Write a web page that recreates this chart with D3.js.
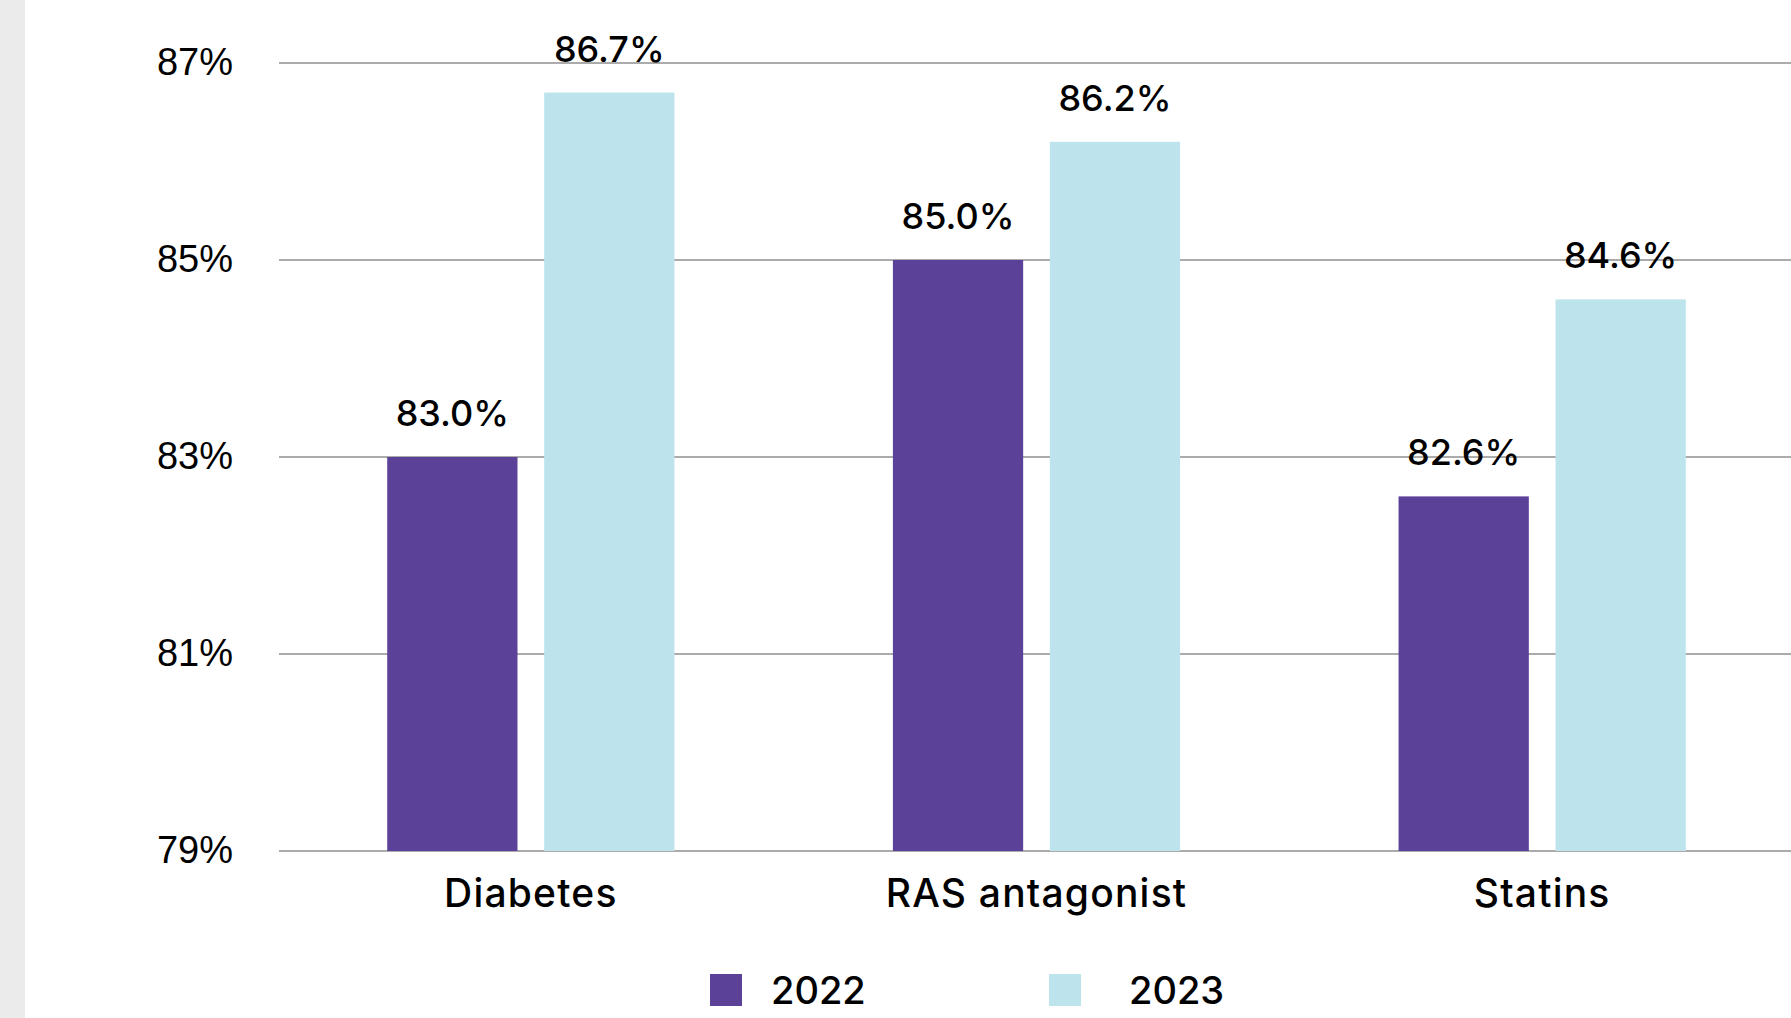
<!DOCTYPE html>
<html>
<head>
<meta charset="utf-8">
<script src="https://cdn.jsdelivr.net/npm/d3@7"></script>
<style>
  html, body { margin: 0; padding: 0; background: #ffffff; }
  svg { display: block; }
</style>
</head>
<body>
<script>
// Adherence by medication class, two survey years
const categories = ["Diabetes", "RAS antagonist", "Statins"];
const years = ["2022", "2023"];
const values2022 = [83.0, 85.0, 82.6];
const values2023 = [86.7, 86.2, 84.6];
const yTicks = [79, 81, 83, 85, 87];
const colors = ["#5c4199", "#bde4ec"];

const W = 1791, H = 1018;
const svg = d3.select("body").append("svg").attr("width", W).attr("height", H);

// light grey strip along the left edge
svg.append("rect").attr("x", 0).attr("y", 0).attr("width", 25).attr("height", H).attr("fill", "#ebebeb");

const plotLeft = 278, plotRight = 1795, plotTop = 63, plotBottom = 851;

const y = d3.scaleLinear().domain([79, 87]).range([plotBottom, plotTop]);
const x0 = d3.scaleBand().domain(categories).range([plotLeft, plotRight]).paddingInner(0.432).paddingOuter(0.216);
const x1 = d3.scaleBand().domain(years).range([0, x0.bandwidth()]).paddingInner(0.17);

// gridlines
svg.append("g")
  .selectAll("line").data(yTicks).join("line")
  .attr("x1", 279).attr("x2", W)
  .attr("y1", d => y(d)).attr("y2", d => y(d))
  .attr("stroke", "#8f8f8f").attr("stroke-width", 1.3);

// y axis labels
const yAxis = d3.axisLeft(y).tickValues(yTicks).tickSize(0).tickPadding(0).tickFormat(d => d + "%");
const yg = svg.append("g").attr("transform", `translate(233,0)`).call(yAxis);
yg.select(".domain").remove();
yg.selectAll("text")
  .attr("font-family", "'Liberation Sans', Arial, sans-serif")
  .attr("font-size", 38).attr("fill", "#000").attr("dy", "0.3em");

const rows = categories.map((c, i) => ({ cat: c, vals: [values2022[i], values2023[i]] }));

const groups = svg.append("g").selectAll("g").data(rows).join("g")
  .attr("transform", d => `translate(${x0(d.cat)},0)`);

groups.selectAll("rect").data(d => d.vals.map((v, j) => ({ year: years[j], v, j }))).join("rect")
  .attr("x", d => x1(d.year))
  .attr("y", d => y(d.v))
  .attr("width", x1.bandwidth())
  .attr("height", d => y(79) - y(d.v))
  .attr("fill", d => colors[d.j]);

groups.selectAll("text.val").data(d => d.vals.map((v, j) => ({ year: years[j], v, j }))).join("text")
  .attr("class", "val")
  .attr("x", d => x1(d.year) + x1.bandwidth() / 2)
  .attr("y", d => y(d.v) - 31)
  .attr("text-anchor", "middle")
  .attr("font-family", "Inter, 'Noto Sans', sans-serif")
  .attr("font-size", 36)
  .attr("font-weight", 500)
  .attr("fill", "#000")
  .text(d => d.v.toFixed(1) + "%");

// category axis
const xAxis = d3.axisBottom(x0).tickSize(0).tickPadding(0);
const xg = svg.append("g").attr("transform", `translate(0,${plotBottom})`).call(xAxis);
xg.select(".domain").remove();
xg.selectAll("text")
  .attr("font-family", "Inter, 'Noto Sans', sans-serif")
  .attr("font-size", 39).attr("font-weight", 500).attr("fill", "#000")
  .attr("letter-spacing", 1.2)
  .attr("dy", 0).attr("y", 56);

// legend
const legendX = [710, 1049];
const legendTextX = [61, 80];
const legend = svg.append("g").selectAll("g").data(years).join("g")
  .attr("transform", (d, i) => `translate(${legendX[i]},974)`);
legend.append("rect").attr("width", 32).attr("height", 32).attr("fill", (d, i) => colors[i]);
legend.append("text").attr("x", (d, i) => legendTextX[i]).attr("y", 30)
  .attr("font-family", "Inter, 'Noto Sans', sans-serif")
  .attr("font-size", 38).attr("font-weight", 500).attr("fill", "#000")
  .text(d => d);
</script>
</body>
</html>
